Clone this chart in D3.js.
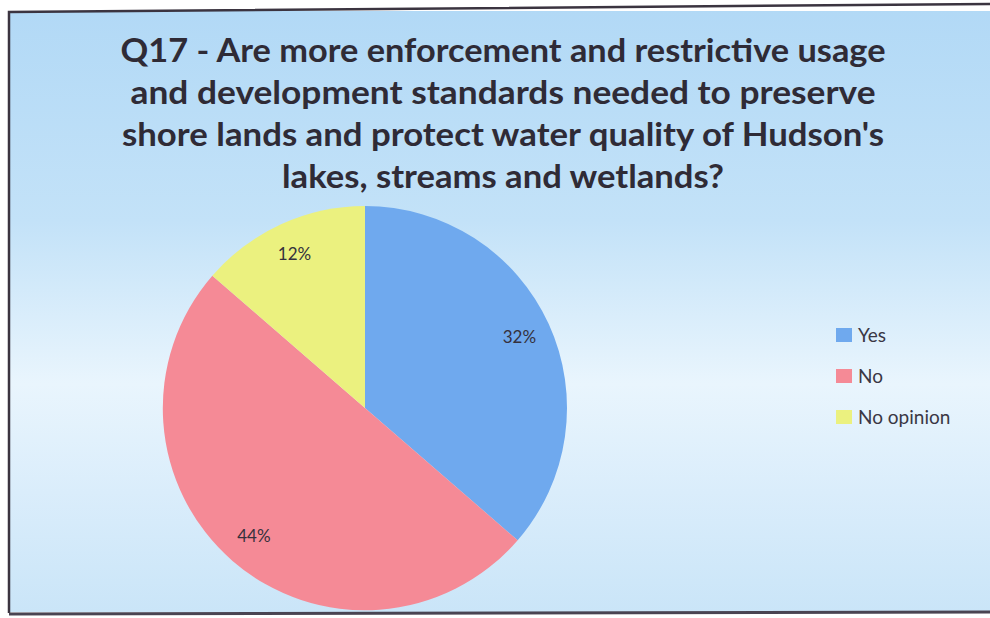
<!DOCTYPE html>
<html>
<head>
<meta charset="utf-8">
<script src="https://cdn.jsdelivr.net/npm/d3@7"></script>
<style>
  html, body { margin: 0; padding: 0; background: #ffffff; }
  svg { display: block; }
</style>
</head>
<body>
<svg id="chart" width="990" height="618"></svg>
<script>
// Survey answers for Q17
const categories = ["Yes", "No", "No opinion"];
const values = [32, 44, 12];
const valueLabels = ["32%", "44%", "12%"];
const colors = ["#6fa9ee", "#f58a96", "#ebf17f"];
const titleLines = [
  "Q17 - Are more enforcement and restrictive usage",
  "and development standards needed to preserve",
  "shore lands and protect water quality of Hudson's",
  "lakes, streams and wetlands?"
];

const W = 990, H = 618;
const svg = d3.select("#chart");
const defs = svg.append("defs");

// Chart area background: soft sky-blue vertical gradient
const grad = defs.append("linearGradient")
  .attr("id", "bg").attr("x1", 0).attr("y1", 0).attr("x2", 0).attr("y2", 1);
[[0, "#b2d9f6"], [0.35, "#c3e2f8"], [0.62, "#e9f5fd"], [0.8, "#daedfb"], [1, "#cae5f8"]]
  .forEach(([o, c]) => grad.append("stop").attr("offset", o).attr("stop-color", c));

svg.append("rect")
  .attr("x", 9).attr("y", 11).attr("width", W - 9).attr("height", 601)
  .attr("fill", "url(#bg)");

// Frame lines
svg.append("path")
  .attr("d", `M9,${H - 5} L9,12 L${W},4`)
  .attr("fill", "none").attr("stroke", "#3b3440").attr("stroke-width", 2.5);
svg.append("path")
  .attr("d", `M9,${H - 4} L${W},${H - 6}`)
  .attr("fill", "none").attr("stroke", "#4a4452").attr("stroke-width", 3);

// Title
const titleFont = "Lato, 'Open Sans', sans-serif";
const title = svg.append("g")
  .attr("font-family", titleFont)
  .attr("font-weight", "bold")
  .attr("fill", "#2f2b36")
  .attr("text-anchor", "middle");
const titleWidths = [765, 745, 762, 442];
titleLines.forEach((t, i) => {
  title.append("text")
    .attr("x", 503)
    .attr("y", 62 + i * 42)
    .attr("font-size", 32)
    .attr("textLength", titleWidths[i])
    .attr("lengthAdjust", "spacingAndGlyphs")
    .text(t);
});

// Pie
const cx = 365, cy = 408, r = 202;
const pie = d3.pie().sort(null).value(d => d.value);
const data = categories.map((c, i) => ({ name: c, value: values[i], label: valueLabels[i], color: colors[i] }));
const arcs = pie(data);
const arc = d3.arc().innerRadius(0).outerRadius(r);
const labelArc = d3.arc().innerRadius(r * 0.84).outerRadius(r * 0.84);

const g = svg.append("g").attr("transform", `translate(${cx},${cy})`);
g.selectAll("path.slice")
  .data(arcs)
  .join("path")
  .attr("class", "slice")
  .attr("d", arc)
  .attr("fill", d => d.data.color);

g.selectAll("text.lbl")
  .data(arcs)
  .join("text")
  .attr("class", "lbl")
  .attr("transform", d => `translate(${labelArc.centroid(d)})`)
  .attr("text-anchor", "middle")
  .attr("dy", "0.35em")
  .attr("font-family", "Lato, 'Open Sans', sans-serif")
  .attr("font-size", 17)
  .attr("fill", "#35313d")
  .text(d => d.data.label);

// Legend
const legend = svg.append("g").attr("transform", "translate(836,328)");
const items = legend.selectAll("g")
  .data(data)
  .join("g")
  .attr("transform", (d, i) => `translate(0,${i * 41})`);
items.append("rect")
  .attr("width", 16).attr("height", 14)
  .attr("fill", d => d.color);
items.append("text")
  .attr("x", 22).attr("y", 7)
  .attr("dy", "0.35em")
  .attr("font-family", "Lato, 'Open Sans', sans-serif")
  .attr("font-size", 19)
  .attr("fill", "#3a3744")
  .text(d => d.name);
</script>
</body>
</html>
